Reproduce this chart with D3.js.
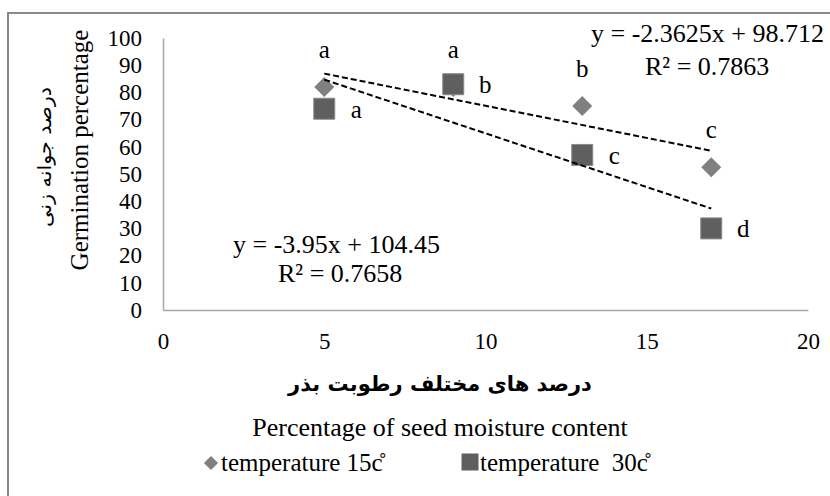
<!DOCTYPE html>
<html>
<head>
<meta charset="utf-8">
<script src="https://cdn.jsdelivr.net/npm/d3@7"></script>
<style>
  body { margin: 0; background: #fff; }
  text { font-family: "Liberation Serif", "DejaVu Serif", serif; fill: #000; }
  text.fa { font-family: "DejaVu Sans", sans-serif; }
</style>
</head>
<body>
<div id="chart"></div>
<script>
// data
const moisture = [5, 9, 13, 17];
const germ15 = [82, 82, 75, 52.5];
const germ30 = [74, 83, 57, 30];
const letters15 = ["a", "a", "b", "c"];
const letters30 = ["a", "b", "c", "d"];
const xTicks = [0, 5, 10, 15, 20];
const yTicks = [0, 10, 20, 30, 40, 50, 60, 70, 80, 90, 100];
// trend lines as printed on the chart: [slope, intercept]
const fit15 = [-2.3625, 98.712];
const fit30 = [-3.95, 104.45];
const eq15 = ["y = -2.3625x + 98.712", "R² = 0.7863"];
const eq30 = ["y = -3.95x + 104.45", "R² = 0.7658"];
const seriesNames = ["temperature 15c\u030A", "temperature  30c\u030A"];

const W = 830, H = 496;
const svg = d3.select("#chart").append("svg")
    .attr("width", W)
    .attr("height", H);

// outer frame (runs off right and bottom like the original)
svg.append("rect")
    .attr("x", 8).attr("y", 13)
    .attr("width", W).attr("height", H)
    .attr("fill", "none")
    .attr("stroke", "#888")
    .attr("stroke-width", 2);

const x = d3.scaleLinear().domain([0, 20]).range([163, 808]);
const y = d3.scaleLinear().domain([0, 100]).range([310, 38]);

// axes
const xAxis = svg.append("g")
    .attr("transform", `translate(0,${y(0)})`)
    .call(d3.axisBottom(x).tickValues(xTicks).tickSize(0).tickPadding(23).tickFormat(d3.format("d")));
const yAxis = svg.append("g")
    .attr("transform", `translate(${x(0)},0)`)
    .call(d3.axisLeft(y).tickValues(yTicks).tickSize(0).tickPadding(21).tickFormat(d3.format("d")));

[xAxis, yAxis].forEach(a => {
    a.select(".domain").attr("stroke", "#a6a6a6").attr("stroke-width", 1.5);
    a.selectAll("text")
        .attr("font-size", 23)
        .attr("fill", "#000");
});

// markers
const diamond = d3.symbol(d3.symbolSquare, 200);
const square = d3.symbol(d3.symbolSquare, 441);

svg.append("g").selectAll("path")
    .data(moisture)
    .join("path")
    .attr("d", diamond)
    .attr("transform", (d, i) => `translate(${x(d)},${y(germ15[i])}) rotate(45)`)
    .attr("fill", "#808080");

svg.append("g").selectAll("path")
    .data(moisture)
    .join("path")
    .attr("d", square)
    .attr("transform", (d, i) => `translate(${x(d)},${y(germ30[i])})`)
    .attr("fill", "#5f5f5f")
    .attr("stroke", "#8a8a8a")
    .attr("stroke-width", 1);

// trend lines
const xr = d3.extent(moisture);
const line = d3.line().x(d => x(d[0])).y(d => y(d[1]));
[fit15, fit30].forEach(f => {
    svg.append("path")
        .datum(xr.map(v => [v, f[0] * v + f[1]]))
        .attr("d", line)
        .attr("fill", "none")
        .attr("stroke", "#000")
        .attr("stroke-width", 2)
        .attr("stroke-dasharray", "6,3");
});

// significance letters
svg.append("g").selectAll("text")
    .data(moisture)
    .join("text")
    .attr("x", d => x(d))
    .attr("y", (d, i) => y(germ15[i]) - 29)
    .attr("text-anchor", "middle")
    .attr("font-size", 25)
    .text((d, i) => letters15[i]);

svg.append("g").selectAll("text")
    .data(moisture)
    .join("text")
    .attr("x", d => x(d) + 32)
    .attr("y", (d, i) => y(germ30[i]) + 9)
    .attr("text-anchor", "middle")
    .attr("font-size", 25)
    .text((d, i) => letters30[i]);

// equations
svg.append("text").attr("x", 591).attr("y", 42).attr("font-size", 26).text(eq15[0]);
svg.append("text").attr("x", 645).attr("y", 75).attr("font-size", 26).text(eq15[1]);
svg.append("text").attr("x", 233).attr("y", 253).attr("font-size", 26).text(eq30[0]);
svg.append("text").attr("x", 278).attr("y", 282).attr("font-size", 26).text(eq30[1]);

// axis titles
svg.append("text")
    .attr("transform", "translate(88,150) rotate(-90)")
    .attr("text-anchor", "middle")
    .attr("font-size", 25)
    .text("Germination percentage");
svg.append("text")
    .attr("class", "fa")
    .attr("transform", "translate(51,157) rotate(-90)")
    .attr("text-anchor", "middle")
    .attr("font-size", 19)
    .attr("textLength", 140)
    .attr("lengthAdjust", "spacingAndGlyphs")
    .attr("direction", "rtl")
    .text("درصد جوانه زنی");

const xc = 440;
svg.append("text")
    .attr("class", "fa")
    .attr("x", xc).attr("y", 391)
    .attr("text-anchor", "middle")
    .attr("font-size", 21)
    .attr("font-weight", "bold")
    .attr("direction", "rtl")
    .text("درصد های مختلف رطوبت بذر");
svg.append("text")
    .attr("x", xc).attr("y", 436)
    .attr("text-anchor", "middle")
    .attr("font-size", 26)
    .text("Percentage of seed moisture content");

// legend
const leg = svg.append("g").attr("transform", "translate(211,463)");
leg.append("path")
    .attr("d", d3.symbol(d3.symbolSquare, 100))
    .attr("transform", "rotate(45)")
    .attr("fill", "#808080");
leg.append("text").attr("x", 10).attr("y", 8).attr("font-size", 25).text(seriesNames[0]);
leg.append("path")
    .attr("d", d3.symbol(d3.symbolSquare, 289))
    .attr("transform", "translate(259,-1)")
    .attr("fill", "#5f5f5f");
leg.append("text").attr("x", 269).attr("y", 8).attr("font-size", 25).attr("xml:space", "preserve").text(seriesNames[1]);
</script>
</body>
</html>
